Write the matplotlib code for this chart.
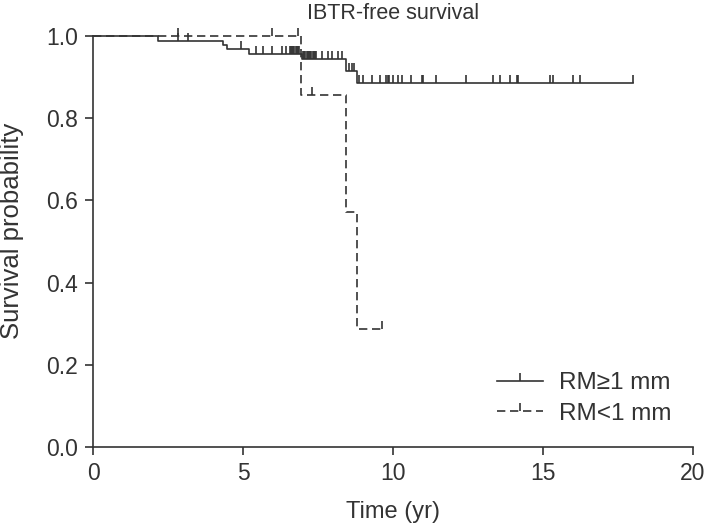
import numpy as np
import matplotlib
matplotlib.use("Agg")
import matplotlib.pyplot as plt
from matplotlib.path import Path
from matplotlib.lines import Line2D

# ---- data ----
labels = ["RM≥1 mm", "RM<1 mm"]

# RM>=1 mm (solid)
solid_event_t = [0.0, 2.18, 4.34, 4.46, 5.21, 6.97, 8.43, 8.79]
solid_surv = [1.0, 0.988, 0.979, 0.969, 0.957, 0.945, 0.916, 0.886]
solid_end = 18.0
solid_censor_t = [2.84, 3.17, 4.92, 5.42, 5.66, 5.96, 6.29, 6.42,
                  6.55, 6.59, 6.63, 6.67, 6.71, 6.75, 6.79, 6.83, 6.87,
                  7.0, 7.04, 7.08, 7.12, 7.16, 7.2, 7.24, 7.28, 7.32, 7.36, 7.4, 7.44,
                  7.62, 7.84, 7.96, 8.18, 8.29, 8.54, 8.62, 8.70,
                  8.88, 8.99, 9.29, 9.57, 9.77, 9.82, 9.88, 10.01, 10.18, 10.29,
                  10.6, 10.96, 10.99, 11.43, 12.43, 13.34, 13.57, 13.9, 14.12, 14.18,
                  15.23, 15.32, 15.99, 16.23, 18.0]

# RM<1 mm (dashed)
dash_event_t = [0.0, 6.92, 8.42, 8.79]
dash_surv = [1.0, 0.857, 0.571, 0.286]
dash_end = 9.62
dash_censor_t = [2.84, 5.96, 6.84, 7.29, 9.62]

title = "IBTR-free survival"
xlabel = "Time (yr)"
ylabel = "Survival probability"
xticks = [0, 5, 10, 15, 20]
yticks = [0.0, 0.2, 0.4, 0.6, 0.8, 1.0]

# ---- style ----
plt.rcParams['font.family'] = ['Liberation Sans', 'DejaVu Sans']
col = "#333333"
txt = "#333333"
fs_tick = 16.5
fs_lab = 17
fs_ylab = 18.5
fs_title = 15.5
fs_leg = 17.5

fig = plt.figure(figsize=(7.08, 5.27), dpi=100)
ax = fig.add_axes([93/708, 1-447/527, 600/708, 411/527])

tick_marker = Path([(0, 0), (0, 1)], [Path.MOVETO, Path.LINETO])


def surv_at(times, surv, t):
    idx = np.searchsorted(times, t, side='right') - 1
    return np.asarray(surv)[idx]


def draw_km(ev_t, surv, end, cens, ls):
    xs = list(ev_t) + [end]
    ys = list(surv) + [surv[-1]]
    ax.step(xs, ys, where='post', color=col, lw=1.2, linestyle=ls, clip_on=False)
    cy = surv_at(np.array(ev_t), surv, np.array(cens))
    ax.plot(cens, cy, linestyle='none', marker=tick_marker, markersize=11.5,
            markeredgewidth=1.2, color=col, clip_on=False)


dashpat = (0, (5.0, 2.8))
draw_km(solid_event_t, solid_surv, solid_end, solid_censor_t, '-')
draw_km(dash_event_t, dash_surv, dash_end, dash_censor_t, dashpat)

ax.set_xlim(0, 20)
ax.set_ylim(0, 1)
ax.set_xticks(xticks)
ax.set_xticklabels([str(v) for v in xticks])
ax.set_yticks(yticks)
ax.set_yticklabels([f"{v:.1f}" for v in yticks])
for s in ['top', 'right']:
    ax.spines[s].set_visible(False)
for s in ['left', 'bottom']:
    ax.spines[s].set_color(col)
    ax.spines[s].set_linewidth(1.2)
ax.tick_params(direction='out', length=6, width=1.2, color=col,
               labelsize=fs_tick, labelcolor=txt, pad=5)
ax.set_xlabel(xlabel, fontsize=fs_lab, color=txt, labelpad=11)
ax.set_ylabel(ylabel, fontsize=fs_ylab, color=txt)
ax.yaxis.set_label_coords(-0.115, 0.525)
ax.set_title(title, fontsize=fs_title, color=txt, pad=12)

handles = [Line2D([], [], color=col, lw=1.2, linestyle='-', marker=tick_marker,
                  markersize=11.5, markeredgewidth=1.2),
           Line2D([], [], color=col, lw=1.2, linestyle=dashpat, marker=tick_marker,
                  markersize=11.5, markeredgewidth=1.2)]
leg = ax.legend(handles, labels, loc='center left', frameon=False,
                bbox_to_anchor=(497/708, 1-398.5/527), bbox_transform=fig.transFigure,
                borderpad=0, borderaxespad=0, handlelength=1.9, handletextpad=0.65,
                labelspacing=0.35, numpoints=1, fontsize=fs_leg)
for t in leg.get_texts():
    t.set_color(txt)

fig.savefig("out.png", dpi=100)
